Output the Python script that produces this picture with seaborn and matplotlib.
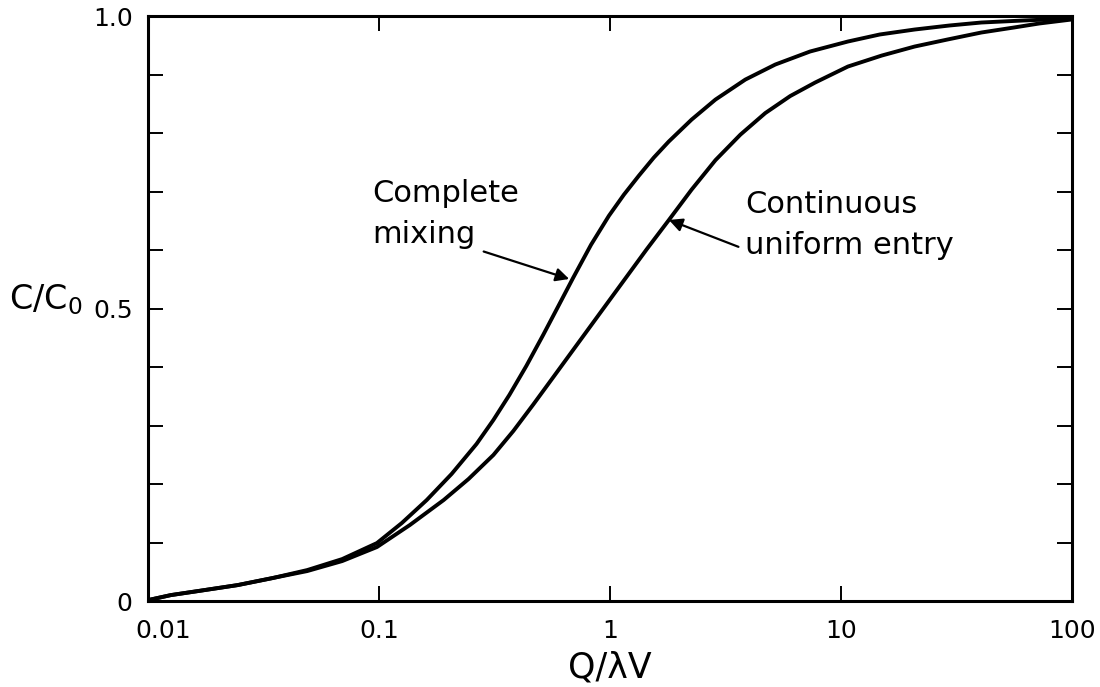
import numpy as np
import pandas as pd
import matplotlib
matplotlib.use("Agg")
import matplotlib.pyplot as plt
import matplotlib.transforms as mtransforms
import seaborn as sns
from matplotlib.ticker import NullLocator

# ---- data ----
mix_x = [0.01, 0.01256, 0.01643, 0.02443, 0.0346, 0.0489, 0.0693, 0.098, 0.1256,
         0.161, 0.2063, 0.2645, 0.313, 0.367, 0.4347, 0.5143, 0.5972, 0.6931,
         0.8283, 0.99, 1.149, 1.334, 1.548, 1.796, 2.256, 2.863, 3.856, 5.196,
         7.35, 10.72, 14.72, 20.84, 29.51, 40.53, 62.1, 100]
mix_y = [0.0017, 0.0103, 0.0171, 0.0274, 0.0394, 0.0531, 0.0719, 0.0993, 0.1336,
         0.1729, 0.2175, 0.2688, 0.3099, 0.3527, 0.4024, 0.4555, 0.5043, 0.5531,
         0.6096, 0.6592, 0.6952, 0.7277, 0.7586, 0.7860, 0.8236, 0.8579, 0.8921,
         0.9178, 0.9401, 0.9572, 0.9692, 0.9777, 0.9846, 0.9897, 0.9932, 0.9966]

uni_x = [0.01, 0.01256, 0.02443, 0.0489, 0.0693, 0.098, 0.136, 0.1906, 0.2443,
         0.313, 0.3819, 0.466, 0.5738, 0.7137, 0.9146, 1.172, 1.443, 1.796,
         2.256, 2.863, 3.67, 4.704, 6.03, 7.73, 10.72, 15.02, 20.84, 28.9,
         40.53, 56.2, 72.1, 100]
uni_y = [0.0017, 0.0103, 0.0274, 0.0514, 0.0685, 0.0925, 0.1301, 0.1729, 0.2089,
         0.2500, 0.2911, 0.3365, 0.3853, 0.4366, 0.4949, 0.5531, 0.6019, 0.6515,
         0.7038, 0.7543, 0.7979, 0.8348, 0.8639, 0.8870, 0.9144, 0.9332, 0.9486,
         0.9606, 0.9726, 0.9812, 0.9880, 0.9949]

x_ticks = [0.01, 0.1, 1, 10, 100]
x_labels = ["0.01", "0.1", "1", "10", "100"]
y_ticks = [0, 0.5, 1.0]
y_labels = ["0", "0.5", "1.0"]
y_minor = [0.1, 0.2, 0.3, 0.4, 0.6, 0.7, 0.8, 0.9]

sns.set_theme(style="white")
plt.rcParams["font.family"] = ["DejaVu Sans"]

df = pd.concat([
    pd.DataFrame({"x": mix_x, "y": mix_y, "curve": "Complete mixing"}),
    pd.DataFrame({"x": uni_x, "y": uni_y, "curve": "Continuous uniform entry"}),
])

fig = plt.figure(figsize=(11, 6.87), dpi=100)
ax = fig.add_axes([0.1345, 0.125, 0.84, 0.851])

sns.lineplot(data=df, x="x", y="y", units="curve", estimator=None, sort=True,
             color="black", linewidth=2.8, ax=ax, legend=False)

ax.set_xscale("log")
ax.set_xlim(0.01, 100)
ax.set_ylim(0, 1.0)
ax.set_xticks(x_ticks)
ax.set_xticklabels(x_labels)
ax.xaxis.set_minor_locator(NullLocator())
ax.set_yticks(y_ticks)
ax.set_yticklabels(y_labels)
ax.set_yticks(y_minor, minor=True)

ax.tick_params(axis="x", which="major", direction="in", length=11, width=1.4,
               top=True, bottom=True, labelsize=18, pad=13, colors="black")
ax.tick_params(axis="y", which="both", direction="in", length=11, width=1.4,
               left=True, right=True, labelsize=18, pad=11, colors="black")

# nudge first x tick label to the right as in the reference
first = ax.get_xticklabels()[0]
first.set_transform(first.get_transform() +
                    mtransforms.ScaledTranslation(0.15, 0, fig.dpi_scale_trans))

for s in ax.spines.values():
    s.set_color("black")
    s.set_linewidth(2.2)

ax.set_xlabel("Q/\u03bbV", fontsize=25, labelpad=5, color="black")
ax.set_ylabel("C/C$_{\\mathregular{0}}$", fontsize=24, rotation=0,
              ha="right", va="center", color="black")
ax.yaxis.set_label_coords(-0.071, 0.515)

# annotations (va='baseline' aligns the last line)
ax.text(0.0933, 0.613, "Complete\nmixing", fontsize=22, ha="left",
        va="baseline", linespacing=1.5, color="black")
ax.annotate("", xy=(0.666, 0.551), xytext=(0.284, 0.598),
            arrowprops=dict(arrowstyle="-|>", lw=1.6, color="black",
                            mutation_scale=20, shrinkA=0, shrinkB=0))
ax.text(3.86, 0.594, "Continuous\nuniform entry", fontsize=22, ha="left",
        va="baseline", linespacing=1.5, color="black")
ax.annotate("", xy=(1.80, 0.652), xytext=(3.60, 0.606),
            arrowprops=dict(arrowstyle="-|>", lw=1.6, color="black",
                            mutation_scale=20, shrinkA=0, shrinkB=0))

fig.savefig("out.png", dpi=100, facecolor="white")
